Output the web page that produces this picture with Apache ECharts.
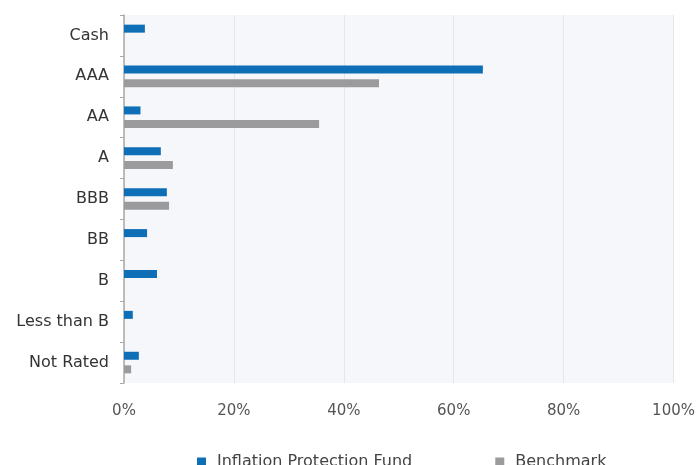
<!DOCTYPE html>
<html>
<head>
<meta charset="utf-8">
<script src="https://cdn.jsdelivr.net/npm/echarts@6/dist/echarts.min.js"></script>
<style>
  html, body { margin: 0; padding: 0; background: #fff; }
  #chart { width: 698px; height: 465px; }
</style>
</head>
<body>
<div id="chart"></div>
<script>
    // credit quality breakdown, values in %
    const categories = ['Cash', 'AAA', 'AA', 'A', 'BBB', 'BB', 'B', 'Less than B', 'Not Rated'];
    const fundValues = [3.8, 65.3, 3.0, 6.7, 7.8, 4.2, 6.0, 1.6, 2.7];
    const benchmarkValues = [0, 46.4, 35.5, 8.9, 8.2, 0, 0, 0, 1.3];
    const xTicks = [0, 20, 40, 60, 80, 100];

    const chart = echarts.init(document.getElementById('chart'));
    const font = 'DejaVu Sans';

    chart.setOption({
        animation: false,
        textStyle: { fontFamily: font },
        grid: {
            left: 124, right: 24, top: 15, bottom: 82,
            show: true, backgroundColor: '#f6f7fb', borderWidth: 0
        },
        legend: {
            top: 449,
            left: 192,
            itemWidth: 9,
            itemHeight: 9,
            itemGap: 83,
            icon: 'rect',
            textStyle: { fontSize: 16, color: '#444', fontFamily: font, padding: [0, 0, 0, 6] },
            data: ['Inflation Protection Fund', 'Benchmark']
        },
        xAxis: {
            type: 'value',
            min: xTicks[0],
            max: xTicks[xTicks.length - 1],
            interval: 20,
            axisLine: { show: false },
            axisTick: { show: false },
            axisLabel: {
                margin: 21,
                fontSize: 15,
                color: '#555',
                formatter: v => v + '%'
            },
            splitLine: { show: true, lineStyle: { color: '#e4e6ea', width: 1 } }
        },
        yAxis: {
            type: 'category',
            inverse: true,
            data: categories,
            axisLine: { show: true, lineStyle: { color: '#a8a8a8', width: 1.5 } },
            axisTick: { show: true, length: 4, lineStyle: { color: '#a8a8a8' } },
            axisLabel: { margin: 15, fontSize: 16, color: '#333' },
            splitLine: { show: false }
        },
        series: [
            {
                name: 'Inflation Protection Fund',
                type: 'bar',
                data: fundValues,
                barWidth: 8,
                barGap: '70%',
                itemStyle: { color: '#0f6fb6' }
            },
            {
                name: 'Benchmark',
                type: 'bar',
                data: benchmarkValues,
                barWidth: 8,
                itemStyle: { color: '#9b9b9d' }
            }
        ]
    });
</script>
</body>
</html>
